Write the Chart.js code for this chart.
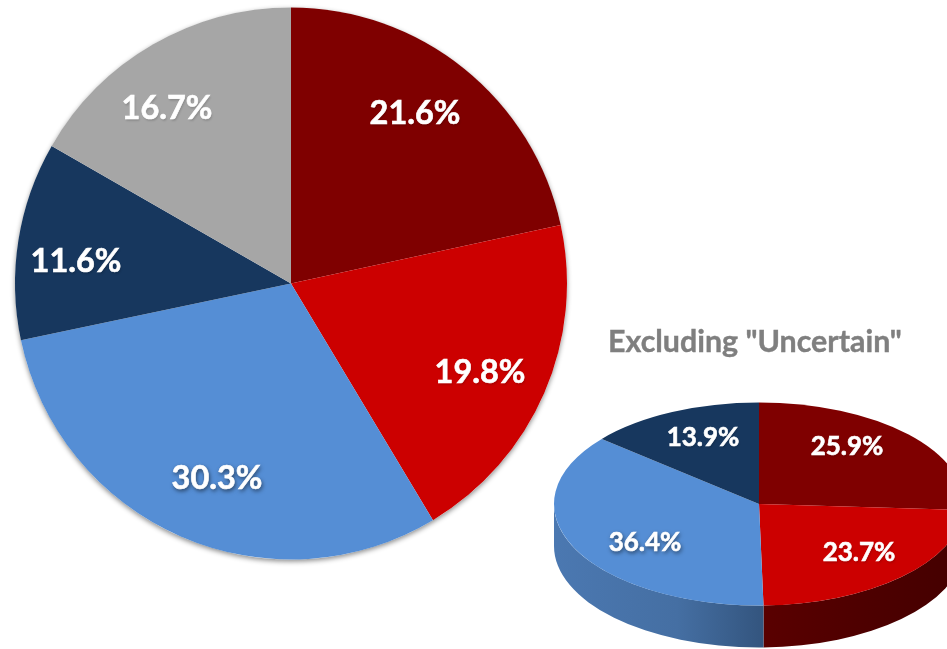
<!DOCTYPE html>
<html>
<head>
<meta charset="utf-8">
<title>Pie charts</title>
<script src="https://cdn.jsdelivr.net/npm/chart.js@4"></script>
<style>
    html, body { margin: 0; padding: 0; background: #fff; overflow: hidden; width: 947px; height: 649px; }
    #page { position: relative; width: 947px; height: 649px; overflow: hidden; }
    canvas { position: absolute; }
    #allChart { left: 8px; top: 0px; }
    #mainTitle { position: absolute; left: 608px; top: 322px; font: bold 30.4px Lato, sans-serif; -webkit-text-stroke: 0.4px #7f7f7f; color: #7f7f7f; white-space: nowrap; }
    #partChart { left: 544px; top: 289px; }
</style>
</head>
<body>
<div id="page">
    <canvas id="allChart" width="566" height="567"></canvas>
    <canvas id="partChart" width="430" height="430"></canvas>
    <div id="mainTitle">Excluding "Uncertain"</div>
</div>
<script>
const allValues = [21.6, 19.8, 30.3, 11.6, 16.7];
const allColors = ['#7f0000', '#cc0000', '#558ed5', '#17375e', '#a6a6a6'];
const partValues = [25.9, 23.7, 36.4, 13.9];
const partColors = ['#7f0000', '#cc0000', '#558ed5', '#17375e'];

// label centres, relative to the pie centre
const allLabelSpots = [[124, -170], [189, 89], [-74, 195], [-215, -22], [-124, -175]];
const partLabelSpots = [[88, -57], [100, 49], [-114, 39], [-56, -66]];
// labels that get the darker soft shadow (the blue slices)
const shadowSlice = 2;

const squash = 0.495;
const wallDepth = 42;

const sliceLabels = {
    id: 'sliceLabels',
    afterDraw(chart, args, opts) {
        const { ctx } = chart;
        const arc = chart.getDatasetMeta(0).data[0];
        ctx.save();
        ctx.font = `bold ${opts.size}px Lato, sans-serif`;
        ctx.fillStyle = '#fff';
        ctx.strokeStyle = '#fff';
        ctx.lineWidth = 0.6;
        ctx.textAlign = 'center';
        ctx.textBaseline = 'middle';
        chart.data.datasets[0].data.forEach((v, i) => {
            const spot = opts.spots[i];
            const text = v.toFixed(1) + '%';
            ctx.shadowColor = i === shadowSlice ? 'rgba(0,0,0,0.6)' : 'rgba(0,0,0,0.15)';
            ctx.shadowBlur = i === shadowSlice ? 4 : 2;
            ctx.shadowOffsetX = 1;
            ctx.shadowOffsetY = 2;
            ctx.fillText(text, arc.x + spot[0], arc.y + spot[1]);
            ctx.shadowColor = 'transparent';
            ctx.strokeText(text, arc.x + spot[0], arc.y + spot[1]);
        });
        ctx.restore();
    }
};

const pieShadow = {
    id: 'pieShadow',
    beforeDatasetsDraw(chart) {
        const { ctx } = chart;
        const arc = chart.getDatasetMeta(0).data[0];
        ctx.save();
        ctx.shadowColor = 'rgba(0,0,0,0.45)';
        ctx.shadowBlur = 5;
        ctx.shadowOffsetY = 2;
        ctx.fillStyle = '#fff';
        ctx.beginPath();
        ctx.arc(arc.x, arc.y, arc.outerRadius, 0, Math.PI * 2);
        ctx.fill();
        ctx.restore();
    }
};

// flattens the pie into an ellipse and draws the side wall under it
const tiltedPie = {
    id: 'tiltedPie',
    beforeDatasetsDraw(chart) {
        const { ctx } = chart;
        const arcs = chart.getDatasetMeta(0).data;
        const cx = arcs[0].x, cy = arcs[0].y, r = arcs[0].outerRadius;
        const ry = r * squash;

        const redWall = ctx.createLinearGradient(cx, 0, cx + r, 0);
        redWall.addColorStop(0, '#5a0000');
        redWall.addColorStop(0.5, '#4e0000');
        redWall.addColorStop(1, '#440000');
        const blueWall = ctx.createLinearGradient(cx - r, 0, cx, 0);
        blueWall.addColorStop(0, '#4b78b1');
        blueWall.addColorStop(0.6, '#456fa3');
        blueWall.addColorStop(1, '#345680');
        const walls = [redWall, redWall, blueWall, '#17375e'];

        arcs.forEach((arc, i) => {
            const from = Math.max(arc.startAngle, 0);
            const to = Math.min(arc.endAngle, Math.PI);
            if (from >= to) return;
            ctx.fillStyle = walls[i];
            ctx.beginPath();
            ctx.ellipse(cx, cy, r, ry, 0, from, to);
            ctx.ellipse(cx, cy + wallDepth, r, ry, 0, to, from, true);
            ctx.closePath();
            ctx.fill();
        });

        ctx.save();
        ctx.translate(0, cy);
        ctx.scale(1, squash);
        ctx.translate(0, -cy);
    },
    afterDatasetsDraw(chart) {
        chart.ctx.restore();
    }
};

function makePie(canvasId, values, colors, padding, spots, fontSize, extra) {
    return new Chart(document.getElementById(canvasId), {
        type: 'pie',
        data: {
            labels: values.map(v => v + '%'),
            datasets: [{ data: values, backgroundColor: colors, borderWidth: 0 }]
        },
        options: {
            responsive: false,
            animation: false,
            layout: { padding: padding },
            plugins: {
                legend: { display: false },
                tooltip: { enabled: false },
                sliceLabels: { spots: spots, size: fontSize }
            }
        },
        plugins: [extra, sliceLabels]
    });
}

document.addEventListener("DOMContentLoaded", () => {
    makePie('allChart', allValues, allColors, 7, allLabelSpots, 32.5, pieShadow);
    makePie('partChart', partValues, partColors, 10, partLabelSpots, 26, tiltedPie);
});
</script>
</body>
</html>
